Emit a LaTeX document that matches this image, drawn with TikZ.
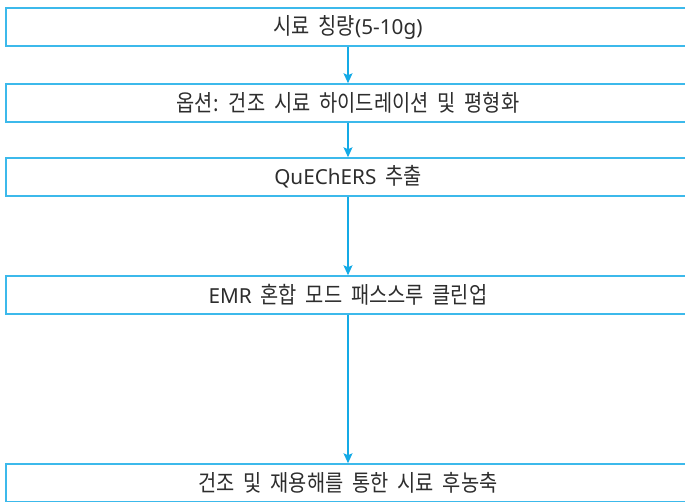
\documentclass[tikz,border=0pt]{standalone}
\usepackage{fontspec}
\setmainfont{Noto Sans CJK KR}[FakeStretch=0.86, WordSpace=2.0]
\newfontfamily\latfont{Noto Sans}[Scale=0.9, WordSpace=1.6]
\newcommand{\lat}[1]{{\latfont #1}}
\usetikzlibrary{arrows.meta}
\definecolor{boxblue}{RGB}{60,185,235}
\definecolor{arrowblue}{RGB}{20,170,230}
\definecolor{txt}{RGB}{45,45,45}
\tikzset{
  stepbox/.style={draw=boxblue, line width=1.5pt, minimum width=684pt, minimum height=38pt,
    inner sep=0pt, font=\fontsize{23}{25}\selectfont, text=txt},
  flow/.style={draw=arrowblue, line width=1.3pt, -{Stealth[length=10pt,width=9pt,inset=2pt]}}
}
\begin{document}
\begin{tikzpicture}[x=1pt,y=-1pt]
\useasboundingbox (0,0) rectangle (685,502);
\clip (0,0) rectangle (685,502);
\node[stepbox] (a) at (348,27) {시료 칭량\lat{(5-10g)}};
\node[stepbox] (b) at (348,103) {옵션: 건조 시료 하이드레이션 및 평형화};
\node[stepbox] (c) at (348,177) {\lat{QuEChERS} 추출};
\node[stepbox] (d) at (348,295) {\lat{EMR} 혼합 모드 패스스루 클린업};
\node[stepbox] (e) at (348,483) {건조 및 재용해를 통한 시료 후농축};
\draw[flow] (a.south) -- (b.north);
\draw[flow] (b.south) -- (c.north);
\draw[flow] (c.south) -- (d.north);
\draw[flow] (d.south) -- (e.north);
\end{tikzpicture}
\end{document}
